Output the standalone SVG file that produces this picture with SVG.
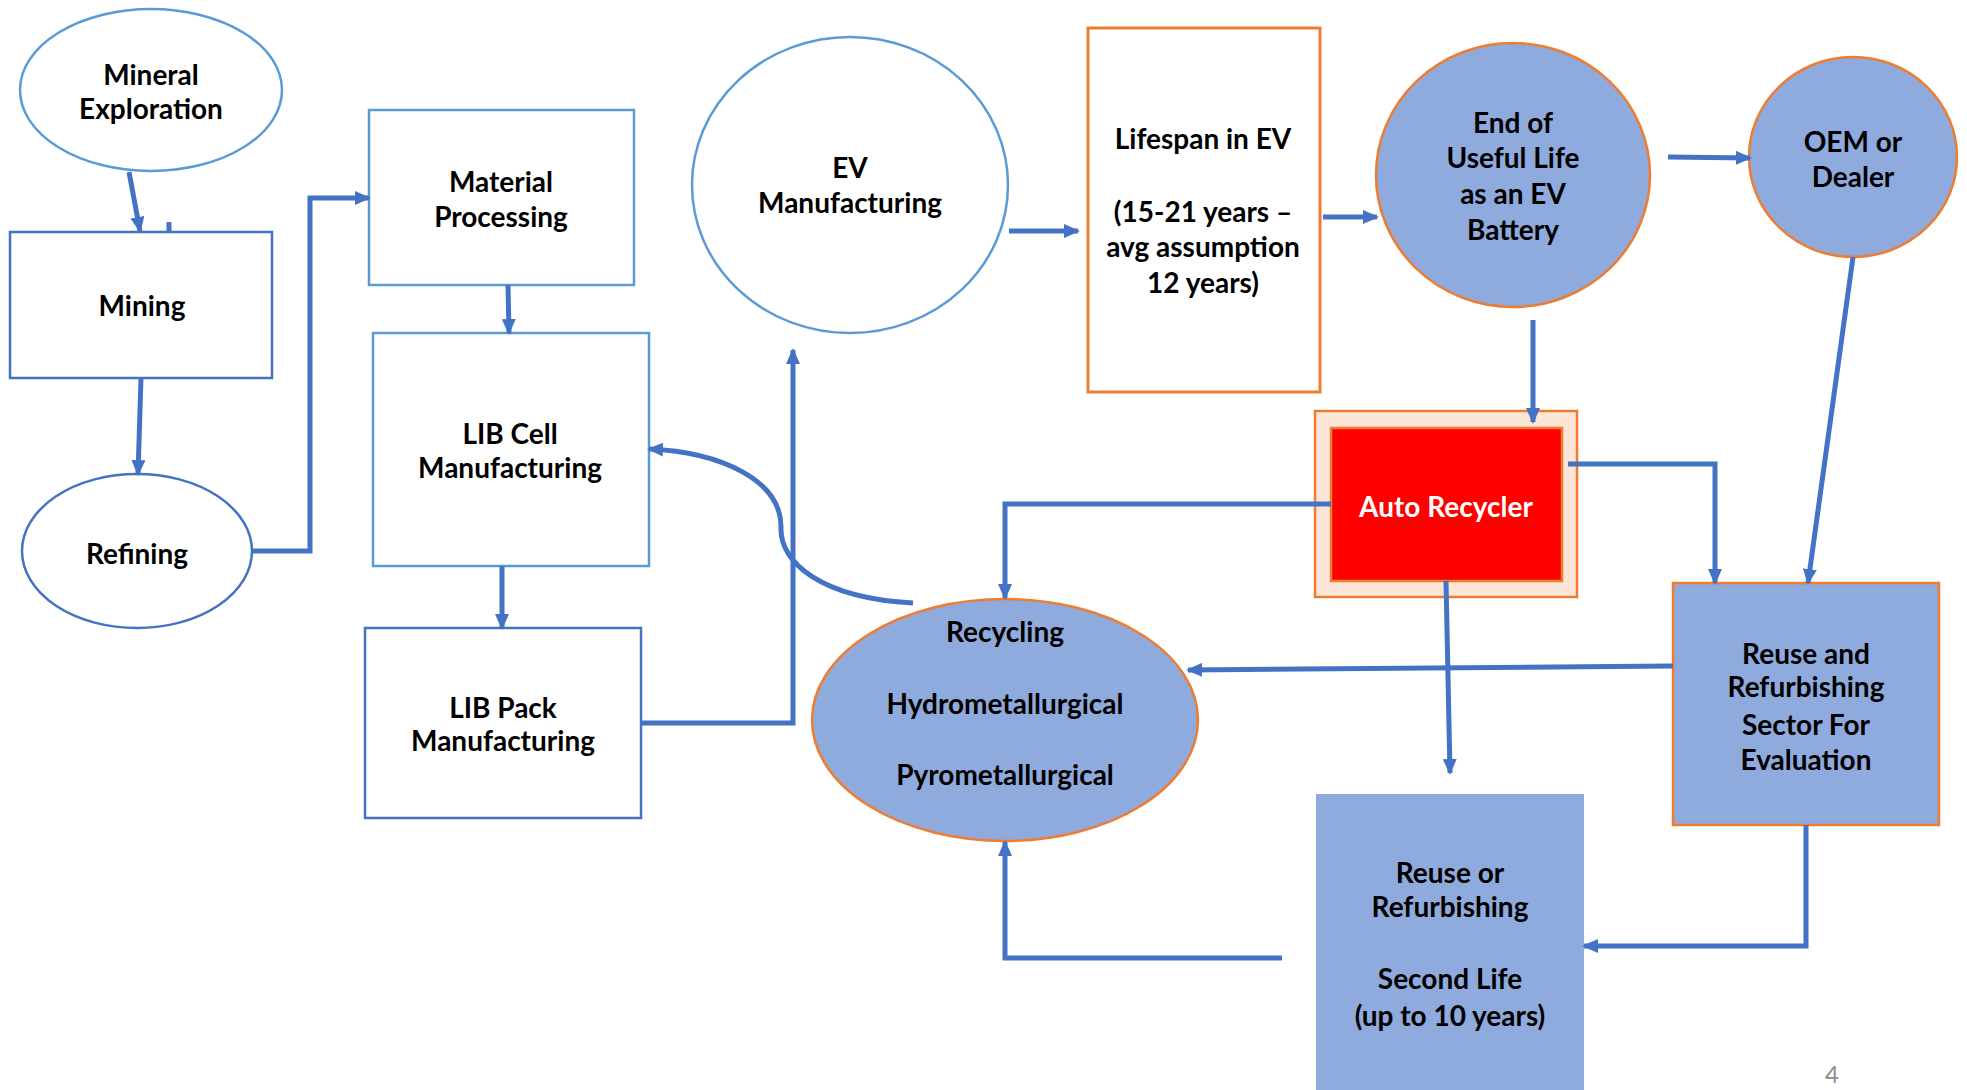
<svg xmlns="http://www.w3.org/2000/svg" width="1967" height="1090" viewBox="0 0 1967 1090">
<style>
.t{font-family:Lato,"Liberation Sans",sans-serif;font-weight:bold;font-size:28px;fill:#000;text-anchor:middle}
.w{fill:#fff}
.lb{fill:#fff;stroke:#5B9BD5;stroke-width:2.5}
.db{fill:#fff;stroke:#4472C4;stroke-width:2.5}
.bf{fill:#8FAADC;stroke:#ED7D31;stroke-width:2.5}
.c{fill:none;stroke:#4472C4;stroke-width:5}
.ca{fill:none;stroke:#4472C4;stroke-width:5;marker-end:url(#ah)}
</style>
<defs>
<marker id="ah" markerWidth="16" markerHeight="14" refX="14" refY="7" orient="auto" markerUnits="userSpaceOnUse"><path d="M0,0 L16,7 L0,14 z" fill="#4472C4"/></marker>
</defs>
<rect width="1967" height="1090" fill="#fff"/>

<g id="mineral-exploration">
<ellipse class="lb" cx="151" cy="90" rx="131" ry="81"/>
<text class="t" x="151" y="85">Mineral</text>
<text class="t" x="151" y="119">Exploration</text>
</g>
<g id="mining">
<rect class="db" x="10" y="232" width="262" height="146"/>
<text class="t" x="142" y="316">Mining</text>
</g>
<g id="refining">
<ellipse class="db" cx="137" cy="551" rx="115" ry="77"/>
<text class="t" x="137" y="564">Refining</text>
</g>
<g id="material-processing">
<rect class="lb" x="369" y="110" width="265" height="175"/>
<text class="t" x="501" y="192">Material</text>
<text class="t" x="501" y="227">Processing</text>
</g>
<g id="lib-cell">
<rect class="lb" x="373" y="333" width="276" height="233"/>
<text class="t" x="510" y="444">LIB Cell</text>
<text class="t" x="510" y="478">Manufacturing</text>
</g>
<g id="lib-pack">
<rect class="db" x="365" y="628" width="276" height="190"/>
<text class="t" x="503" y="718">LIB Pack</text>
<text class="t" x="503" y="751">Manufacturing</text>
</g>
<g id="ev-manufacturing">
<ellipse class="lb" cx="850" cy="185" rx="158" ry="148"/>
<text class="t" x="850" y="178">EV</text>
<text class="t" x="850" y="213">Manufacturing</text>
</g>
<g id="lifespan">
<rect x="1088" y="28" width="232" height="364" fill="#fff" stroke="#ED7D31" stroke-width="3"/>
<text class="t" x="1203" y="149">Lifespan in EV</text>
<text class="t" x="1203" y="222">(15-21 years –</text>
<text class="t" x="1203" y="257">avg assumption</text>
<text class="t" x="1203" y="293">12 years)</text>
</g>
<g id="end-of-life">
<ellipse class="bf" cx="1513" cy="175" rx="137" ry="132"/>
<text class="t" x="1513" y="133">End of</text>
<text class="t" x="1513" y="168">Useful Life</text>
<text class="t" x="1513" y="204">as an EV</text>
<text class="t" x="1513" y="240">Battery</text>
</g>
<g id="oem-dealer">
<ellipse class="bf" cx="1853" cy="157" rx="104" ry="100"/>
<text class="t" x="1853" y="152">OEM or</text>
<text class="t" x="1853" y="187">Dealer</text>
</g>
<g id="auto-recycler">
<rect x="1315" y="411" width="262" height="186" fill="#FBE5D6" stroke="#ED7D31" stroke-width="2.5"/>
<rect x="1331" y="428" width="231" height="153" fill="#FF0000" stroke="#ED7D31" stroke-width="2.5"/>
<text class="t w" x="1446" y="517">Auto Recycler</text>
</g>
<g id="reuse-sector">
<rect class="bf" x="1673" y="583" width="266" height="242"/>
<text class="t" x="1806" y="664">Reuse and</text>
<text class="t" x="1806" y="697">Refurbishing</text>
<text class="t" x="1806" y="735">Sector For</text>
<text class="t" x="1806" y="770">Evaluation</text>
</g>
<g id="second-life">
<rect x="1316" y="794" width="268" height="296" fill="#8FAADC"/>
<text class="t" x="1450" y="883">Reuse or</text>
<text class="t" x="1450" y="917">Refurbishing</text>
<text class="t" x="1450" y="989">Second Life</text>
<text class="t" x="1450" y="1026">(up to 10 years)</text>
</g>
<g id="recycling">
<ellipse class="bf" cx="1005" cy="720" rx="193" ry="121"/>
<text class="t" x="1005" y="642">Recycling</text>
<text class="t" x="1005" y="714">Hydrometallurgical</text>
<text class="t" x="1005" y="785">Pyrometallurgical</text>
</g>
<text x="1832" y="1083" font-family="Lato,'Liberation Sans',sans-serif" font-size="24" fill="#8C8C8C" text-anchor="middle">4</text>

<g id="connectors">
<path class="ca" d="M129,172 L140,231"/>
<path class="c" d="M169,222 L169,232" stroke-width="4"/>
<path class="ca" d="M141,378 L138,474"/>
<path class="ca" d="M252,551 L310,551 L310,198 L369,198"/>
<path class="ca" d="M508,285 L509,333"/>
<path class="ca" d="M502,566 L502,628"/>
<path class="ca" d="M641,723 L793,723 L793,350"/>
<path class="ca" d="M1009,231 L1078,231"/>
<path class="ca" d="M1323,217 L1377,217"/>
<path class="ca" d="M1668,157 L1750,158"/>
<path class="ca" d="M1533,320 L1533,422"/>
<path class="ca" d="M1853,257 L1808,583"/>
<path class="ca" d="M1568,464 L1715,464 L1715,583"/>
<path class="ca" d="M1331,504 L1005,504 L1005,598"/>
<path class="ca" d="M1446,581 L1450,773"/>
<path class="ca" d="M1673,666 L1188,670"/>
<path class="ca" d="M1806,825 L1806,946 L1584,946"/>
<path class="ca" d="M1282,958 L1005,958 L1005,842"/>
<path class="ca" d="M913,603 C820,598 780,562 781,528 C782,480 720,452 649,449"/>
</g>
</svg>
